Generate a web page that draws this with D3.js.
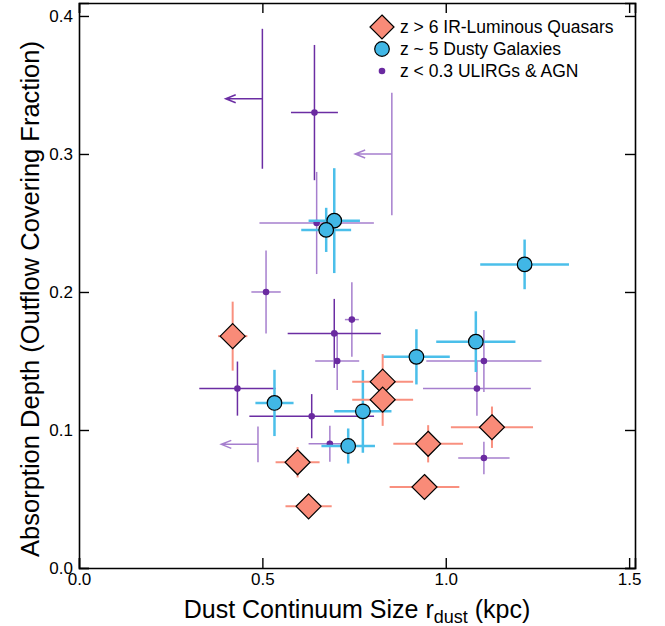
<!DOCTYPE html>
<html>
<head>
<meta charset="utf-8">
<script src="https://cdn.jsdelivr.net/npm/d3@7"></script>
<style>
  body { margin: 0; background: #fff; }
  svg { display: block; font-family: "Liberation Sans", Arial, Helvetica, sans-serif; }
</style>
</head>
<body>
<div id="graf"></div>
<script>
// z > 6 quasars
const quasarX = [0.419, 0.828, 0.828, 1.126, 0.952, 0.942, 0.596, 0.626]
const quasarY = [0.168, 0.135, 0.122, 0.102, 0.090, 0.0587, 0.0766, 0.0447]
const quasarXErr = [0.04, 0.083, 0.083, 0.112, 0.095, 0.095, 0.06, 0.063]
const quasarYErr = [0.025, 0.02, 0.019, 0.015, 0.0135, 0.008, 0.011, 0.007]

// z ~ 5 dusty galaxies
const dustyX = [0.696, 0.674, 1.215, 1.082, 0.920, 0.533, 0.774, 0.734]
const dustyY = [0.2517, 0.245, 0.220, 0.164, 0.153, 0.1196, 0.1135, 0.0884]
const dustyXErr = [0.07, 0.068, 0.121, 0.108, 0.091, 0.052, 0.078, 0.073]
const dustyYErr = [0.038, 0.016, 0.018, 0.022, 0.02, 0.024, 0.030, 0.0127]

// z < 0.3 ULIRGs & AGN (limit = upper limit on size)
const ulirgX = [0.642, 0.500, 0.853, 0.648, 0.510, 0.744, 0.696, 0.704, 0.432, 0.6345, 0.684, 0.488, 1.104, 1.085, 1.104]
const ulirgY = [0.330, 0.340, 0.300, 0.250, 0.200, 0.180, 0.170, 0.150, 0.130, 0.110, 0.090, 0.0896, 0.150, 0.130, 0.0797]
const ulirgXErr = [0.064, 0, 0, 0.156, 0.04, 0.019, 0.127, 0.06, 0.104, 0.17, 0.058, 0, 0.157, 0.147, 0.07]
const ulirgYErr = [0.049, 0.0507, 0.0444, 0.037, 0.030, 0.027, 0.025, 0.021, 0.0196, 0.016, 0.013, 0.013, 0.0225, 0.0196, 0.0118]
const ulirgLimit = [false, true, true, false, false, false, false, false, false, false, false, true, false, false, false]
const ulirgSample = ['A', 'A', 'B', 'B', 'B', 'B', 'A', 'B', 'A', 'A', 'B', 'B', 'B', 'B', 'B']

const xTicks = [0.0, 0.5, 1.0, 1.5]
const yTicks = [0.0, 0.1, 0.2, 0.3, 0.4]
const legendLabels = ['z > 6 IR-Luminous Quasars', 'z ~ 5 Dusty Galaxies', 'z < 0.3 ULIRGs & AGN']

const ancho = 665
const alto = 626
const margins = { left: 79, top: 3, right: 30, bottom: 58 }
const limitArrow = 0.1

const salmon = '#f98b78'
const salmonBar = '#f9907f'
const blue = '#41b7e6'
const blueBar = '#4bbfea'
const purple = '#6a2aa0'
const purpleBar = { A: '#6b2da3', B: '#a67fce' }

const svg = d3.select('#graf')
  .append('svg')
  .attr('width', ancho)
  .attr('height', alto)

const x = d3.scaleLinear().domain([0, 1.516]).range([margins.left, ancho - margins.right])
const y = d3.scaleLinear().domain([0, 0.4094]).range([alto - margins.bottom, margins.top])

const quasars = quasarX.map((d, i) => ({ x: d, y: quasarY[i], xe: quasarXErr[i], ye: quasarYErr[i] }))
const dusty = dustyX.map((d, i) => ({ x: d, y: dustyY[i], xe: dustyXErr[i], ye: dustyYErr[i] }))
const ulirgs = ulirgX.map((d, i) => ({
  x: d, y: ulirgY[i], xe: ulirgXErr[i], ye: ulirgYErr[i], limit: ulirgLimit[i], sample: ulirgSample[i]
}))

const errorBars = (g, data, color, width) => {
  g.selectAll(null).data(data).enter().append('line')
    .attr('x1', d => x(d.x)).attr('x2', d => x(d.x))
    .attr('y1', d => y(d.y - d.ye)).attr('y2', d => y(d.y + d.ye))
    .attr('stroke', color).attr('stroke-width', width)
  g.selectAll(null).data(data.filter(d => !d.limit)).enter().append('line')
    .attr('x1', d => x(d.x - d.xe)).attr('x2', d => x(d.x + d.xe))
    .attr('y1', d => y(d.y)).attr('y2', d => y(d.y))
    .attr('stroke', color).attr('stroke-width', width)
}

// ULIRG error bars and limit arrows
const gU = svg.append('g')
errorBars(gU, ulirgs, d => purpleBar[d.sample], 1.5)
const lims = ulirgs.filter(d => d.limit)
gU.selectAll(null).data(lims).enter().append('path')
  .attr('d', d => {
    const x0 = x(d.x), x1 = x(d.x - limitArrow), yy = y(d.y)
    return `M${x0},${yy}H${x1}M${x1 + 10},${yy - 4}L${x1},${yy}L${x1 + 10},${yy + 4}`
  })
  .attr('fill', 'none')
  .attr('stroke', d => purpleBar[d.sample])
  .attr('stroke-width', 1.5)
gU.selectAll('circle').data(ulirgs.filter(d => !d.limit)).enter().append('circle')
  .attr('cx', d => x(d.x)).attr('cy', d => y(d.y)).attr('r', 3.3)
  .attr('fill', purple)

// dusty galaxies
const gD = svg.append('g')
errorBars(gD, dusty, blueBar, 2.5)
gD.selectAll('circle').data(dusty).enter().append('circle')
  .attr('cx', d => x(d.x)).attr('cy', d => y(d.y)).attr('r', 7.3)
  .attr('fill', blue).attr('stroke', '#000').attr('stroke-width', 1.2)

// quasars
const gQ = svg.append('g')
errorBars(gQ, quasars, salmonBar, 2)
const diamond = s => `M0,${-s}L${s},0L0,${s}L${-s},0Z`
gQ.selectAll('path.q').data(quasars).enter().append('path')
  .attr('class', 'q')
  .attr('d', diamond(12.5))
  .attr('transform', d => `translate(${x(d.x)},${y(d.y)})`)
  .attr('fill', salmon).attr('stroke', '#000').attr('stroke-width', 1.2)

// axes, ticks inward
const tickLen = 10
svg.append('g')
  .attr('transform', `translate(0,${y(0)})`)
  .call(d3.axisBottom(x).tickValues(xTicks).tickSize(-tickLen).tickPadding(5).tickFormat(d3.format('.1f')))
svg.append('g')
  .attr('transform', `translate(0,${y.range()[1]})`)
  .call(d3.axisTop(x).tickValues(xTicks).tickSize(-tickLen).tickFormat(''))
svg.append('g')
  .attr('transform', `translate(${x(0)},0)`)
  .call(d3.axisLeft(y).tickValues(yTicks).tickSize(-tickLen).tickPadding(6).tickFormat(d3.format('.1f')))
svg.append('g')
  .attr('transform', `translate(${x.range()[1]},0)`)
  .call(d3.axisRight(y).tickValues(yTicks).tickSize(-tickLen).tickFormat(''))

svg.selectAll('.domain').attr('stroke', '#000').attr('stroke-width', 1.6)
svg.selectAll('.tick line').attr('stroke', '#000').attr('stroke-width', 1.4)
svg.selectAll('.tick text').attr('font-size', 17).attr('fill', '#000').attr('font-family', 'Liberation Sans, Arial, sans-serif')

// axis titles
const xt = svg.append('text')
  .attr('x', (x.range()[0] + x.range()[1]) / 2)
  .attr('y', 618)
  .attr('text-anchor', 'middle')
  .attr('font-size', 25)
xt.append('tspan').text('Dust Continuum Size r')
xt.append('tspan').attr('font-size', 18).attr('dy', 5).text('dust')
xt.append('tspan').attr('dy', -5).text(' (kpc)')

svg.append('text')
  .attr('transform', `translate(39,299) rotate(-90)`)
  .attr('text-anchor', 'middle')
  .attr('font-size', 25.5)
  .text('Absorption Depth (Outflow Covering Fraction)')

// legend
const legend = svg.append('g').attr('transform', 'translate(382,27)')
const rowH = 22
legend.append('path').attr('d', diamond(12)).attr('fill', salmon).attr('stroke', '#000').attr('stroke-width', 1.2)
legend.append('circle').attr('cy', rowH).attr('r', 7.3).attr('fill', blue).attr('stroke', '#000').attr('stroke-width', 1.2)
legend.append('circle').attr('cy', rowH * 2).attr('r', 3.3).attr('fill', purple)
legend.selectAll('text').data(legendLabels).enter().append('text')
  .attr('x', 18)
  .attr('y', (d, i) => i * rowH)
  .attr('dy', '0.35em')
  .attr('font-size', 17.5)
  .text(d => d)
</script>
</body>
</html>
